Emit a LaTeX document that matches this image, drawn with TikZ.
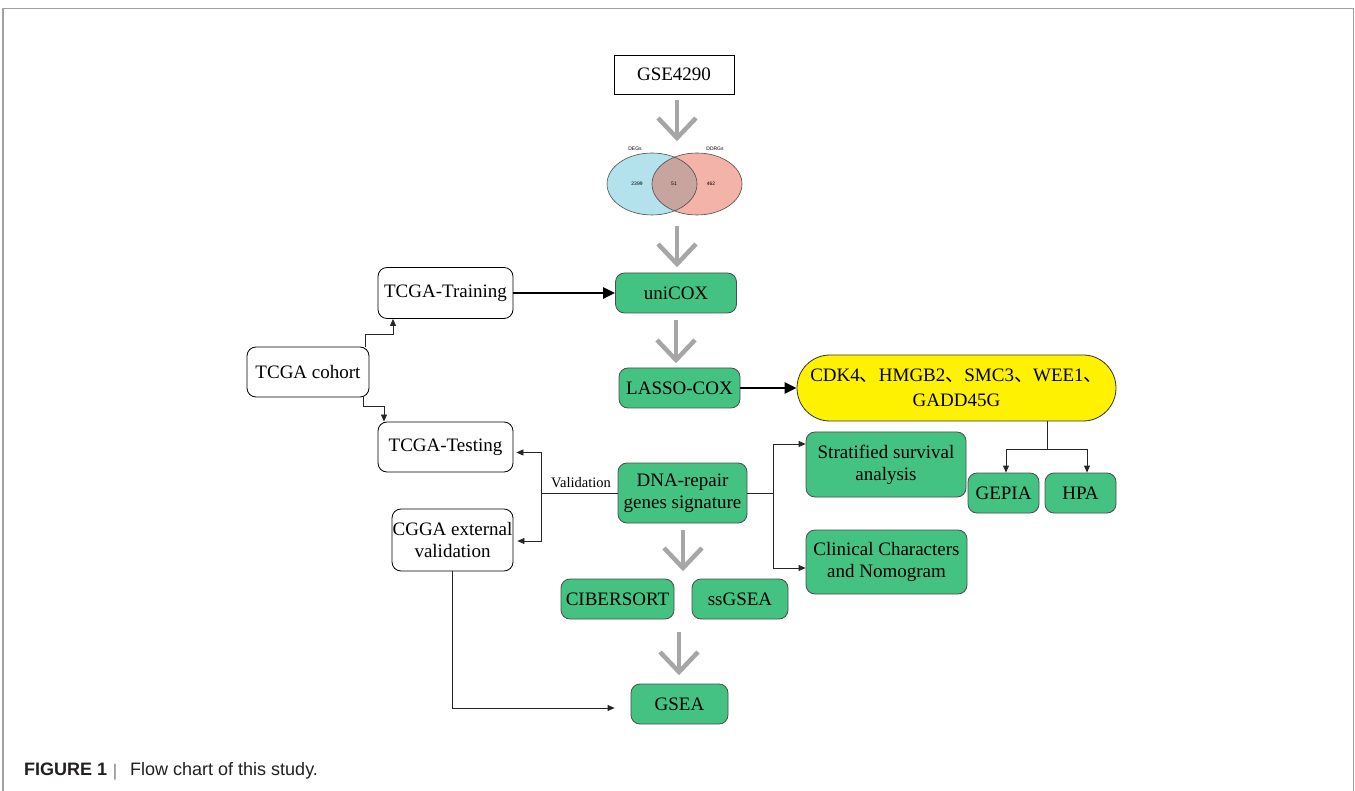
\documentclass[tikz,border=0pt]{standalone}
\usepackage{fontspec}
\setmainfont{Liberation Serif}
\newfontfamily\capfont{Liberation Sans}
\newfontfamily\cjk{Noto Sans CJK SC}
\usetikzlibrary{arrows.meta,calc}
\definecolor{boxgreen}{HTML}{44C281}
\definecolor{arrgray}{HTML}{A6A6A6}
\definecolor{framegray}{HTML}{A0A0A0}
\definecolor{vennblue}{HTML}{B3E1EC}
\definecolor{vennred}{HTML}{F3B3A8}
\definecolor{vennmix}{HTML}{C8A49F}
\definecolor{captext}{HTML}{231F20}
\newcommand{\cc}{{\cjk 、}}
\begin{document}
\begin{tikzpicture}[x=1pt,y=-1pt,
  base/.style={line width=0.8pt, inner sep=0pt, align=center, font=\fontsize{19}{22}\selectfont},
  gbox/.style={base, draw=black!70, fill=boxgreen, rounded corners=9pt},
  wbox/.style={base, draw=black, fill=white, rounded corners=9pt},
  tarrow/.style={draw=black!85, line width=0.8pt, -{Triangle[length=7pt,width=6pt]}},
  tline/.style={draw=black!85, line width=0.8pt},
  thick arrow/.style={draw=black, line width=2.8pt, -{Triangle[length=12pt,width=11pt]}},
  garrow/.style={draw=arrgray, line width=4.5pt},
  vennlab/.style={font=\capfont\fontsize{5}{6}\selectfont, inner sep=0pt}
]
\useasboundingbox (0,0) rectangle (1355,791);
% frame
\draw[framegray, line width=1.5pt] (3,791) -- (3,8.5) -- (1353.5,8.5) -- (1353.5,791);

% nodes
\node[base, draw=black, fill=white, minimum width=120pt, minimum height=39pt] (gse) at (674,74.5) {GSE4290};
\node[wbox, minimum width=135pt, minimum height=51pt] (training) at (445.5,293) {TCGA-Training};
\node[wbox, minimum width=122pt, minimum height=50pt] (cohort) at (308,372) {TCGA cohort};
\node[wbox, minimum width=135pt, minimum height=50pt] (testing) at (445.5,447) {TCGA-Testing};
\node[wbox, minimum width=121pt, minimum height=62pt] (cgga) at (452.5,540) {CGGA external\\validation};
\node[gbox, minimum width=121pt, minimum height=40pt] (unicox) at (676,293) {uniCOX};
\node[gbox, minimum width=121pt, minimum height=40pt] (lasso) at (679.5,388) {LASSO-COX};
\node[base, draw=black!80, fill=yellow, rounded corners=33pt, minimum width=319pt, minimum height=66pt,
      font=\fontsize{19}{25}\selectfont] (genes) at (956.5,388) {CDK4\cc HMGB2\cc SMC3\cc WEE1\cc\\GADD45G};
\node[gbox, minimum width=129pt, minimum height=60pt] (dna) at (682.5,493) {DNA-repair\\genes signature};
\node[gbox, minimum width=160pt, minimum height=65pt] (strat) at (886,464.5) {Stratified survival\\analysis};
\node[gbox, minimum width=71pt, minimum height=40pt] (gepia) at (1003.5,493) {GEPIA};
\node[gbox, minimum width=71pt, minimum height=40pt] (hpa) at (1080.5,493) {HPA};
\node[gbox, minimum width=161pt, minimum height=64pt] (clin) at (886.5,562) {Clinical Characters\\and Nomogram};
\node[gbox, minimum width=113pt, minimum height=40pt] (cib) at (617.5,599) {CIBERSORT};
\node[gbox, minimum width=96pt, minimum height=40pt] (ssg) at (740,599) {ssGSEA};
\node[gbox, minimum width=97pt, minimum height=40pt] (gsea) at (679.5,704) {GSEA};

% Venn diagram
\fill[vennblue] (652,184) ellipse [x radius=45, y radius=31];
\fill[vennred] (697,184) ellipse [x radius=45, y radius=31];
\begin{scope}
  \clip (652,184) ellipse [x radius=45, y radius=31];
  \fill[vennmix] (697,184) ellipse [x radius=45, y radius=31];
\end{scope}
\draw[black!70, line width=0.6pt] (652,184) ellipse [x radius=45, y radius=31];
\draw[black!70, line width=0.6pt] (697,184) ellipse [x radius=45, y radius=31];
\node[vennlab] (degs) at (635,149) {DEGs};
\node[vennlab] (ddrgs) at (715,149) {DDRGs};
\node[vennlab] (n1) at (637,184) {2399};
\node[vennlab] (n2) at (674,184) {51};
\node[vennlab] (n3) at (711,184) {462};

% gray arrows
\foreach \x/\ya/\yb in {677/100/138, 677/226/264, 676/320/360, 683/530/568, 679/632/672}{
  \draw[garrow] (\x,\ya) -- (\x,\yb);
  \draw[garrow, line join=miter] (\x-19,\yb-20) -- (\x,\yb) -- (\x+19,\yb-20);
}

% thick arrows
\draw[thick arrow] (training.east) -- (unicox.west);
\draw[thick arrow] (lasso.east) -- (genes.west);

% cohort split
\draw[tarrow] ([xshift=-4pt]cohort.north east) -- ++(0,-12) -| ([xshift=-52.5pt]training.south);
\draw[tarrow] ([xshift=-6pt]cohort.south east) -- ++(0,9) -| ([xshift=-61.5pt]testing.north);

% validation
\coordinate (vx) at (541,493);
\draw[tline] (dna.west) -- (vx);
\node[font=\fontsize{14.5}{16}\selectfont, inner sep=0pt] (vlab) at (581,483) {Validation};
\draw[tarrow, shorten >=3pt] (vx) |- ([yshift=-5.5pt]testing.east);
\draw[tarrow, shorten >=4pt] (vx) |- ([yshift=-1pt]cgga.east);

% signature to analyses
\coordinate (sx) at (773,493);
\draw[tline] (dna.east) -- (sx);
\draw[tarrow] (sx) |- ([yshift=20.5pt]strat.west);
\draw[tarrow] (sx) |- ([yshift=-6pt]clin.west);

% genes to GEPIA / HPA
\coordinate (yj) at (1047,449);
\draw[tline] ([xshift=90.5pt]genes.south) -- (yj);
\draw[tarrow] (yj) -| ([xshift=2.5pt]gepia.north);
\draw[tarrow] (yj) -| ([xshift=6.5pt]hpa.north);

% CGGA to GSEA
\draw[tarrow, shorten >=16pt] (cgga.south) |- ([yshift=-4pt]gsea.west);

% caption
\node[anchor=base west, inner sep=0pt, text=captext, font=\capfont\bfseries\fontsize{18}{20}\selectfont] (figlab) at (24,775) {FIGURE 1};
\node[anchor=base, inner sep=0pt, text=black!50, font=\capfont\fontsize{17}{20}\selectfont] (bar) at (115,776) {|};
\node[anchor=base west, inner sep=0pt, text=captext, font=\capfont\fontsize{18}{20}\selectfont] (captxt) at (130,775) {Flow chart of this study.};
\end{tikzpicture}
\end{document}
